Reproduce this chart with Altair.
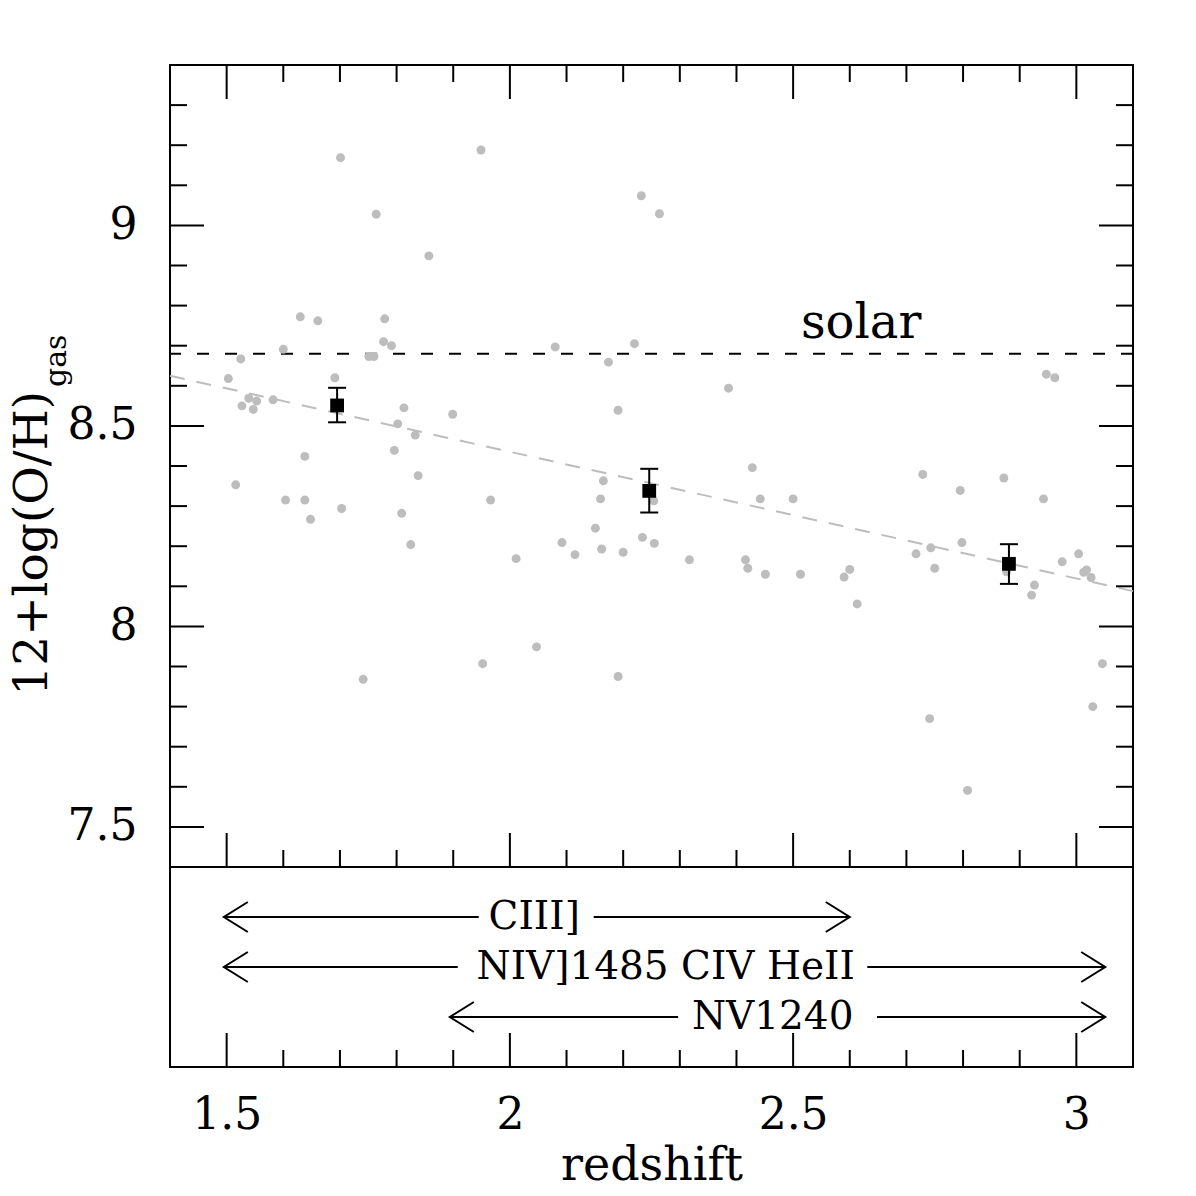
import altair as alt
import pandas as pd

# ---------------- data ----------------
z_gal = [1.503, 1.525, 1.600, 1.630, 1.661, 1.701, 1.691, 1.751, 1.760, 1.764,
         1.779, 1.777, 1.791, 1.857, 1.949, 2.080, 2.232, 2.264, 2.174, 2.220,
         2.386, 2.947, 2.962, 1.539, 1.553, 1.527, 1.547, 1.582, 1.813, 1.899,
         1.802, 1.833, 1.796, 1.638, 1.838, 1.516, 1.604, 1.638, 1.966, 1.703,
         1.809, 1.648, 1.825, 1.741, 1.952, 2.191, 2.428, 2.165, 2.160, 2.254,
         2.442, 2.500, 2.151, 2.234, 2.255, 2.092, 2.115, 2.162, 2.200, 2.011,
         2.317, 2.416, 2.420, 2.451, 2.513, 2.047, 2.191, 2.729, 2.872, 2.795,
         2.942, 2.798, 2.743, 2.717, 3.004, 2.975, 2.600, 2.590, 2.750, 3.018,
         3.013, 3.026, 2.877, 2.926, 2.921, 2.613, 3.046, 3.029, 2.741, 2.808]
oh_gal = [8.618, 8.667, 8.691, 8.772, 8.762, 9.169, 8.620, 8.673, 8.673, 9.028,
          8.767, 8.710, 8.700, 8.924, 9.188, 8.697, 9.074, 9.029, 8.659, 8.705,
          8.594, 8.629, 8.620, 8.569, 8.562, 8.550, 8.541, 8.565, 8.545, 8.529,
          8.505, 8.477, 8.439, 8.424, 8.376, 8.353, 8.315, 8.315, 8.315, 8.294,
          8.282, 8.267, 8.204, 7.868, 7.907, 8.539, 8.396, 8.363, 8.318, 8.313,
          8.318, 8.318, 8.245, 8.222, 8.207, 8.209, 8.179, 8.193, 8.185, 8.169,
          8.166, 8.166, 8.145, 8.130, 8.130, 7.949, 7.875, 8.379, 8.370, 8.339,
          8.318, 8.209, 8.196, 8.181, 8.181, 8.161, 8.142, 8.123, 8.145, 8.141,
          8.135, 8.122, 8.136, 8.103, 8.078, 8.056, 7.907, 7.800, 7.770, 7.591]

z_bin = [1.695, 2.246, 2.881]
oh_bin = [8.551, 8.338, 8.156]
oh_bin_lo = [8.509, 8.284, 8.106]
oh_bin_hi = [8.595, 8.393, 8.205]

fit_z = [1.4, 3.1]
fit_oh = [8.625, 8.088]

solar_oh = [8.68]
solar_label = ["solar"]
solar_label_z = [2.62]
solar_label_oh = [8.72]

line_names = ["CIII]", "NIV]1485 CIV HeII", "NV1240"]
line_zmin = [1.495, 1.495, 1.894]
line_zmax = [2.600, 3.051, 3.051]
line_gap_lo = [1.945, 1.908, 2.297]
line_gap_hi = [2.148, 2.631, 2.648]
line_label_z = [2.043, 2.275, 2.464]
line_row = [3, 2, 1]

x_major = [1.5, 2.0, 2.5, 3.0]
x_minor = [1.6, 1.7, 1.8, 1.9, 2.1, 2.2, 2.3, 2.4, 2.6, 2.7, 2.8, 2.9]
y_major = [7.5, 8.0, 8.5, 9.0]
y_minor = [7.6, 7.7, 7.8, 7.9, 8.1, 8.2, 8.3, 8.4, 8.6, 8.7, 8.8, 8.9, 9.1, 9.2, 9.3]

y_title_main = ["12+log(O/H)"]
y_title_sub = ["gas"]
x_title = "redshift"

# ---------------- build ----------------
FONT = "DejaVu Serif"
W, HT, HB = 963, 802, 200
MAJ, MIN = 34, 17
GRAY = "#bdbdbd"

xs = alt.Scale(domain=[1.4, 3.1], nice=False, zero=False)
ys = alt.Scale(domain=[7.4, 9.4], nice=False, zero=False)
rs = alt.Scale(domain=[0, 4], nice=False, zero=False)

df_gal = pd.DataFrame({"z": z_gal, "oh": oh_gal})
df_bin = pd.DataFrame({"z": z_bin, "oh": oh_bin, "lo": oh_bin_lo, "hi": oh_bin_hi})
df_fit = pd.DataFrame({"z": fit_z, "oh": fit_oh})
df_sol = pd.DataFrame({"oh": solar_oh})
df_sol_lab = pd.DataFrame({"z": solar_label_z, "oh": solar_label_oh, "t": solar_label})

X = lambda f="z": alt.X(f + ":Q", scale=xs, axis=None)
Y = lambda f="oh": alt.Y(f + ":Q", scale=ys, axis=None)

gal = alt.Chart(df_gal).mark_circle(size=80, color=GRAY, opacity=1).encode(
    x=X(),
    y=alt.Y("oh:Q", scale=ys, axis=alt.Axis(
        values=y_major, format="~g", ticks=False, domain=False, grid=False,
        labelFont=FONT, labelFontSize=44, labelPadding=33, labelColor="black",
        title=None)),
)
fit = alt.Chart(df_fit).mark_line(color=GRAY, strokeDash=[15, 12], strokeWidth=2).encode(x=X(), y=Y())
sol = alt.Chart(df_sol).mark_rule(color="black", strokeDash=[12, 16], strokeWidth=2).encode(y=Y())
sol_lab = alt.Chart(df_sol_lab).mark_text(font=FONT, fontSize=48, color="black", align="center",
                                          baseline="alphabetic").encode(x=X(), y=Y(), text="t:N")
err = alt.Chart(df_bin).mark_rule(color="black", strokeWidth=2).encode(x=X(), y=Y("lo"), y2="hi:Q")
cap_style = dict(shape="M -1 0 L 1 0", size=324, filled=False, color="black", strokeWidth=2, opacity=1)
cap_lo = alt.Chart(df_bin).mark_point(**cap_style).encode(x=X(), y=Y("lo"))
cap_hi = alt.Chart(df_bin).mark_point(**cap_style).encode(x=X(), y=Y("hi"))
sq = alt.Chart(df_bin).mark_square(size=190, color="black", opacity=1).encode(x=X(), y=Y())


def xticks(vals, length, height, both=True, scale=xs):
    d = pd.DataFrame({"v": vals})
    layers = [alt.Chart(d).mark_rule(color="black", strokeWidth=2).encode(
        x=alt.X("v:Q", scale=scale, axis=None), y=alt.value(height), y2=alt.value(height - length))]
    if both:
        layers.append(alt.Chart(d).mark_rule(color="black", strokeWidth=2).encode(
            x=alt.X("v:Q", scale=scale, axis=None), y=alt.value(0), y2=alt.value(length)))
    return layers


def yticks(vals, length):
    d = pd.DataFrame({"v": vals})
    return [
        alt.Chart(d).mark_rule(color="black", strokeWidth=2).encode(
            y=alt.Y("v:Q", scale=ys, axis=None), x=alt.value(0), x2=alt.value(length)),
        alt.Chart(d).mark_rule(color="black", strokeWidth=2).encode(
            y=alt.Y("v:Q", scale=ys, axis=None), x=alt.value(W), x2=alt.value(W - length)),
    ]


title_main = alt.Chart(pd.DataFrame({"t": y_title_main})).mark_text(
    font=FONT, fontSize=47, color="black", angle=270, align="right", baseline="alphabetic"
).encode(text="t:N", x=alt.value(-123), y=alt.value(326))
title_sub = alt.Chart(pd.DataFrame({"t": y_title_sub})).mark_text(
    font=FONT, fontSize=30, color="black", angle=270, align="left", baseline="alphabetic"
).encode(text="t:N", x=alt.value(-104), y=alt.value(322))

top_layers = [fit, sol, gal, sol_lab, err, cap_lo, cap_hi, sq]
top_layers += xticks(x_major, MAJ, HT) + xticks(x_minor, MIN, HT)
top_layers += yticks(y_major, MAJ) + yticks(y_minor, MIN)
top_layers += [title_main, title_sub]
top = alt.layer(*top_layers).resolve_axis(x="independent", y="independent").properties(width=W, height=HT)

# bottom panel: rest-frame line coverage
seg_z1, seg_z2, seg_row = [], [], []
for i in range(len(line_names)):
    seg_z1 += [line_zmin[i], line_gap_hi[i]]
    seg_z2 += [line_gap_lo[i], line_zmax[i]]
    seg_row += [line_row[i], line_row[i]]
df_seg = pd.DataFrame({"z": seg_z1, "z2": seg_z2, "row": seg_row})
df_lh = pd.DataFrame({"z": line_zmin, "row": line_row})
df_rh = pd.DataFrame({"z": line_zmax, "row": line_row})
df_lab = pd.DataFrame({"z": line_label_z, "row": line_row, "t": line_names})

XB = alt.X("z:Q", scale=xs, axis=None)
RB = alt.Y("row:Q", scale=rs, axis=None)

segs = alt.Chart(df_seg).mark_rule(color="black", strokeWidth=2).encode(x=XB, x2="z2:Q", y=RB)
head_style = dict(size=576, filled=False, color="black", strokeWidth=2, opacity=1)
lh = alt.Chart(df_lh).mark_point(shape="M 2 -1.25 L 0 0 L 2 1.25", **head_style).encode(x=XB, y=RB)
rh = alt.Chart(df_rh).mark_point(shape="M -2 -1.25 L 0 0 L -2 1.25", **head_style).encode(x=XB, y=RB)
labs = alt.Chart(df_lab).mark_text(font=FONT, fontSize=39, color="black", align="center",
                                   baseline="middle").encode(
    x=alt.X("z:Q", scale=xs, axis=alt.Axis(
        values=x_major, format="~g", ticks=False, domain=False, grid=False,
        labelFont=FONT, labelFontSize=44, labelPadding=26, labelColor="black",
        title=x_title, titleFont=FONT, titleFontSize=46, titleFontWeight="normal",
        titleColor="black", titlePadding=6)),
    y=RB, text="t:N")

bot_layers = [segs, lh, rh, labs] + xticks(x_major, MAJ, HB, both=False) + xticks(x_minor, MIN, HB, both=False)
bottom = alt.layer(*bot_layers).resolve_axis(x="independent", y="independent").properties(width=W, height=HB)

chart = alt.vconcat(top, bottom, spacing=0, bounds="flush").properties(
    padding={"left": 8, "top": 63, "right": 5, "bottom": 0},
    background="white",
).configure_view(stroke="black", strokeWidth=2)

chart.save("out.html", embed_options={"renderer": "svg", "actions": False})
